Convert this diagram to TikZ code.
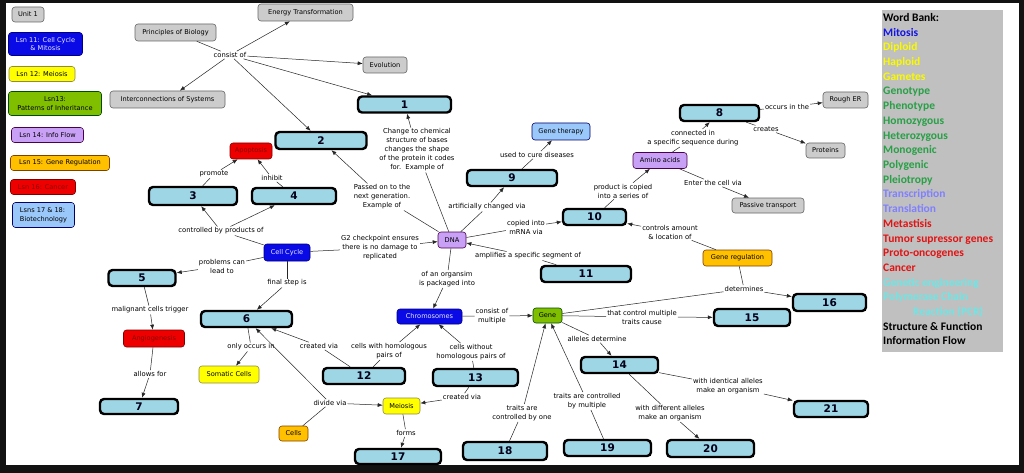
\documentclass[tikz,border=0pt]{standalone}
\usepackage{fontspec}
\newfontfamily\djv{DejaVu Sans}
\newfontfamily\crl{Carlito}
\usetikzlibrary{arrows.meta}
\definecolor{numfill}{RGB}{158,214,230}
\definecolor{cgray}{RGB}{204,204,204}
\definecolor{cblue}{RGB}{10,10,230}
\definecolor{cyellow}{RGB}{255,255,0}
\definecolor{cgreen}{RGB}{128,190,0}
\definecolor{cpurple}{RGB}{200,160,245}
\definecolor{corange}{RGB}{255,192,0}
\definecolor{cred}{RGB}{238,0,0}
\definecolor{clblue}{RGB}{155,200,250}
\definecolor{wbgray}{RGB}{192,192,192}
\definecolor{wbblue}{RGB}{20,20,230}
\definecolor{wbyellow}{RGB}{250,250,0}
\definecolor{wbgreen}{RGB}{40,160,70}
\definecolor{wbpurple}{RGB}{128,128,255}
\definecolor{wbred}{RGB}{225,20,20}
\definecolor{wbcyan}{RGB}{110,230,230}
\newcommand\mynf{\djv\fontsize{6.6}{8.5}\selectfont}
\newcommand\mylf{\djv\fontsize{6.8}{9}\selectfont}
\newcommand\mynumf{\djv\bfseries\fontsize{10.5}{11}\selectfont}
\newcommand\mywbf{\crl\bfseries\fontsize{11.5}{13}\selectfont}
\tikzset{
 base/.style={rounded corners=3pt, inner sep=1pt, font=\mynf, line width=0.6pt, align=center},
 grayn/.style={base, draw=black!60, fill=cgray},
 bluen/.style={base, draw=blue!50!black, fill=cblue, text=blue!8},
 yellown/.style={base, draw=yellow!50!black, fill=cyellow},
 greenn/.style={base, draw=green!30!black, fill=cgreen},
 purplen/.style={base, draw=violet!60!black, fill=cpurple},
 orangen/.style={base, draw=orange!50!black, fill=corange},
 redn/.style={base, draw=red!50!black, fill=cred, text=red!55!black},
 lbluen/.style={base, draw=blue!40!black, fill=clblue},
 numbox/.style={draw=black, line width=2.4pt, rounded corners=4pt, fill=numfill, font=\mynumf, text=black!90!blue, inner sep=0pt},
 lab/.style={font=\mylf, align=center, inner sep=1pt},
 ln/.style={draw=black!85, line width=0.5pt},
 arr/.style={ln, -{Latex[length=5pt,width=4pt]}},
 wb/.style={anchor=base west, font=\mywbf, inner sep=0pt},
}
\begin{document}
\begin{tikzpicture}[x=1pt,y=-1pt]
\useasboundingbox (0,0) rectangle (1024,473);
\fill[black!93] (0,0) rectangle (1024,473);
\fill[white] (6,3) rectangle (1019,465);

% legend
\node[grayn, minimum width=32pt, minimum height=15pt] (unit) at (28,14.5) {Unit 1};
\node[bluen, minimum width=74pt, minimum height=23pt] (l11) at (45.5,44) {Lsn 11: Cell Cycle\\\& Mitosis};
\node[yellown, minimum width=66pt, minimum height=15pt] (l12) at (42,74) {Lsn 12: Meiosis};
\node[greenn, minimum width=93pt, minimum height=24pt] (l13) at (55,103.5) {Lsn13:\\Patterns of Inheritance};
\node[purplen, minimum width=72pt, minimum height=15pt] (l14) at (47.5,135) {Lsn 14: Info Flow};
\node[orangen, minimum width=99pt, minimum height=15pt] (l15) at (60,163) {Lsn 15: Gene Regulation};
\node[redn, minimum width=65pt, minimum height=15pt] (l16) at (43,187) {Lsn 16: Cancer};
\node[lbluen, minimum width=62pt, minimum height=25pt, align=left] (l1718) at (43.5,215) {Lsns 17 \& 18:\\Biotechnology};

% gray concepts
\node[grayn, minimum width=95pt, minimum height=17pt] (energy) at (305.5,12.5) {Energy Transformation};
\node[grayn, minimum width=81pt, minimum height=17pt] (prin) at (175.5,32.5) {Principles of Biology};
\node[grayn, minimum width=44pt, minimum height=16pt] (evol) at (385,65) {Evolution};
\node[grayn, minimum width=115pt, minimum height=17pt] (inter) at (167.5,99.5) {Interconnections of Systems};
\node[grayn, minimum width=45pt, minimum height=16pt] (rough) at (845.5,100) {Rough ER};
\node[grayn, minimum width=39pt, minimum height=15pt] (proteins) at (825.5,150.5) {Proteins};
\node[grayn, minimum width=72pt, minimum height=15pt] (passive) at (768,205.5) {Passive transport};

% coloured concepts
\node[redn, minimum width=42pt, minimum height=16pt] (apop) at (251,151) {Apoptosis};
\node[redn, minimum width=61pt, minimum height=17pt] (angio) at (154,338.5) {Angiogenesis};
\node[yellown, minimum width=60pt, minimum height=17pt] (soma) at (229,374.5) {Somatic Cells};
\node[bluen, minimum width=46pt, minimum height=17pt] (cc) at (287,252.5) {Cell Cycle};
\node[purplen, minimum width=28pt, minimum height=16pt] (dna) at (452,240) {DNA};
\node[lbluen, minimum width=58pt, minimum height=17pt] (gt) at (561,131.5) {Gene therapy};
\node[purplen, minimum width=54pt, minimum height=16pt] (amino) at (660,160.5) {Amino acids};
\node[orangen, minimum width=69pt, minimum height=16pt] (genereg) at (737.5,258) {Gene regulation};
\node[greenn, minimum width=29pt, minimum height=15pt] (gene) at (547.5,315.5) {Gene};
\node[bluen, minimum width=65pt, minimum height=15pt] (chrom) at (429.5,316.5) {Chromosomes};
\node[yellown, minimum width=37pt, minimum height=16pt] (meiosis) at (401.5,406) {Meiosis};
\node[orangen, minimum width=29pt, minimum height=15pt] (cells) at (293.5,433.5) {Cells};

% numbered boxes
\node[numbox, minimum width=93pt, minimum height=16pt] (n1) at (404.5,104.5) {1};
\node[numbox, minimum width=91pt, minimum height=17pt] (n2) at (321,140.5) {2};
\node[numbox, minimum width=88pt, minimum height=18pt] (n3) at (193,196) {3};
\node[numbox, minimum width=84pt, minimum height=16pt] (n4) at (294,196) {4};
\node[numbox, minimum width=67pt, minimum height=16pt] (n5) at (142,278) {5};
\node[numbox, minimum width=91pt, minimum height=16pt] (n6) at (246.5,319) {6};
\node[numbox, minimum width=78pt, minimum height=15pt] (n7) at (139,406.5) {7};
\node[numbox, minimum width=79pt, minimum height=16pt] (n8) at (719.5,113) {8};
\node[numbox, minimum width=90pt, minimum height=16pt] (n9) at (512,178) {9};
\node[numbox, minimum width=63pt, minimum height=16pt] (n10) at (594.5,217) {10};
\node[numbox, minimum width=90pt, minimum height=16pt] (n11) at (586,274) {11};
\node[numbox, minimum width=82pt, minimum height=16pt] (n12) at (364,376) {12};
\node[numbox, minimum width=85pt, minimum height=17pt] (n13) at (475.5,377.5) {13};
\node[numbox, minimum width=77pt, minimum height=16pt] (n14) at (619.5,365) {14};
\node[numbox, minimum width=76pt, minimum height=17pt] (n15) at (752,317.5) {15};
\node[numbox, minimum width=73pt, minimum height=17pt] (n16) at (829.5,302.5) {16};
\node[numbox, minimum width=86pt, minimum height=15pt] (n17) at (398,456.5) {17};
\node[numbox, minimum width=84pt, minimum height=18pt] (n18) at (505,451) {18};
\node[numbox, minimum width=87pt, minimum height=16pt] (n19) at (607.5,448) {19};
\node[numbox, minimum width=87pt, minimum height=17pt] (n20) at (710.5,448.5) {20};
\node[numbox, minimum width=74pt, minimum height=16pt] (n21) at (831,409) {21};

% linking phrases
\node[lab] (consist) at (230,55) {consist of};
\node[lab] (chg) at (417,150) {Change to chemical\\structure of bases\\changes the shape\\of the protein it codes\\for.\ \ Example of};
\node[lab] (passed) at (382,197) {Passed on to the\\next generation.\\Example of};
\node[lab] (artif) at (487,207) {artificially changed via};
\node[lab] (cure) at (537,155) {used to cure diseases};
\node[lab] (copied) at (526,227) {copied into\\mRNA via};
\node[lab] (ampl) at (528,256) {amplifies a specific segment of};
\node[lab] (g2) at (380,248) {G2 checkpoint ensures\\there is no damage to\\replicated};
\node[lab] (pack) at (447,279) {of an organsim\\is packaged into};
\node[lab] (consmult) at (492,316) {consist of\\multiple};
\node[lab] (tcm) at (642,317) {that control multiple\\traits cause};
\node[lab] (determ) at (744,289) {determines};
\node[lab] (ctrl) at (670,232) {controls amount\\\& location of};
\node[lab] (prod) at (623,191) {product is copied\\into a series of};
\node[lab] (conn) at (693,138) {connected in\\a specific sequence during};
\node[lab] (occurs) at (787,107) {occurs in the};
\node[lab] (creates) at (766,129) {creates};
\node[lab] (enter) at (713,183) {Enter the cell via};
\node[lab] (alleles) at (597,339) {alleles determine};
\node[lab] (ident) at (728,386) {with identical alleles\\make an organism};
\node[lab] (diff) at (670,413) {with different alleles\\make an organism};
\node[lab] (tmult) at (587,401) {traits are controlled\\by multiple};
\node[lab] (tone) at (522,413) {traits are\\controlled by one};
\node[lab] (homo) at (389,351) {cells with homologous\\pairs of};
\node[lab] (nohomo) at (471,352) {cells without\\homologous pairs of};
\node[lab] (cva) at (319,346) {created via};
\node[lab] (cvb) at (462,397) {created via};
\node[lab] (divide) at (330,403) {divide via};
\node[lab] (forms) at (406,433) {forms};
\node[lab] (final) at (287,283) {final step is};
\node[lab] (problems) at (222,266) {problems can\\lead to};
\node[lab] (ctrlby) at (221,231) {controlled by products of};
\node[lab] (promote) at (214,174) {promote};
\node[lab] (inhibit) at (272,178) {inhibit};
\node[lab] (malig) at (150,310) {malignant cells trigger};
\node[lab] (allows) at (150,374) {allows for};
\node[lab] (only) at (251,347) {only occurs in};

% connectors
\draw[ln] (prin) -- (consist);
\draw[arr] (consist) -- (energy);
\draw[arr] (consist) -- (evol);
\draw[arr] (consist) -- (n1);
\draw[arr] (consist) -- (n2);
\draw[arr] (consist) -- (inter);

\draw[ln] (dna) -- (chg);  \draw[arr] (chg) -- (n1);
\draw[ln] (dna) -- (passed); \draw[arr] (passed) -- (n2);
\draw[ln] (dna) -- (artif); \draw[arr] (artif) -- (n9);
\draw[ln] (n9) -- (cure); \draw[arr] (cure) -- (gt);
\draw[ln] (dna) -- (copied); \draw[arr] (copied) -- (n10);
\draw[ln] (n11) -- (ampl); \draw[arr] (ampl) -- (dna);
\draw[ln] (cc) -- (g2); \draw[arr] (g2) -- (dna);
\draw[ln] (dna) -- (pack); \draw[arr] (pack) -- (chrom);
\draw[ln] (chrom) -- (consmult); \draw[arr] (consmult) -- (gene);
\draw[ln] (gene) -- (tcm); \draw[arr] (tcm) -- (n15);
\draw[ln] (gene) -- (determ); \draw[ln] (genereg) -- (determ); \draw[arr] (determ) -- (n16);
\draw[ln] (genereg) -- (ctrl); \draw[arr] (ctrl) -- (n10);
\draw[ln] (n10) -- (prod); \draw[arr] (prod) -- (amino);
\draw[ln] (amino) -- (conn); \draw[arr] (conn) -- (n8);
\draw[ln] (amino) -- (enter); \draw[arr] (enter) -- (passive);
\draw[ln] (n8) -- (occurs); \draw[arr] (occurs) -- (rough);
\draw[ln] (n8) -- (creates); \draw[arr] (creates) -- (proteins);
\draw[ln] (gene) -- (alleles); \draw[arr] (alleles) -- (n14);
\draw[ln] (n14) -- (ident); \draw[arr] (ident) -- (n21);
\draw[ln] (n14) -- (diff); \draw[arr] (diff) -- (n20);
\draw[ln] (n19) -- (tmult); \draw[arr] (tmult) -- (gene);
\draw[ln] (n18) -- (tone); \draw[arr] (tone) -- (gene);
\draw[ln] (n12) -- (homo); \draw[arr] (homo) -- (chrom);
\draw[ln] (n13) -- (nohomo); \draw[arr] (nohomo) -- (chrom);
\draw[ln] (n12) -- (cva); \draw[arr] (cva) -- (n6);
\draw[ln] (n13) -- (cvb); \draw[arr] (cvb) -- (meiosis);
\draw[ln] (cells) -- (divide); \draw[arr] (divide) -- (n6); \draw[arr] (divide) -- (meiosis);
\draw[ln] (meiosis) -- (forms); \draw[arr] (forms) -- (n17);
\draw[ln] (cc) -- (final); \draw[arr] (final) -- (n6);
\draw[ln] (cc) -- (problems); \draw[arr] (problems) -- (n5);
\draw[ln] (cc) -- (ctrlby); \draw[arr] (ctrlby) -- (n3); \draw[arr] (ctrlby) -- (n4);
\draw[ln] (n3) -- (promote); \draw[arr] (promote) -- (apop);
\draw[ln] (n4) -- (inhibit); \draw[arr] (inhibit) -- (apop);
\draw[ln] (n5) -- (malig); \draw[arr] (malig) -- (angio);
\draw[ln] (angio) -- (allows); \draw[arr] (allows) -- (n7);
\draw[ln] (n6) -- (only); \draw[arr] (only) -- (soma);

% word bank
\fill[wbgray] (882,10) rectangle (1003,352);
\node[wb] (wb1) at (883,21.5) {Word Bank:};
\node[wb, text=wbblue] (wb2) at (883,36.2) {Mitosis};
\node[wb, text=wbyellow] (wb3) at (883,50.9) {Diploid};
\node[wb, text=wbyellow] (wb4) at (883,65.6) {Haploid};
\node[wb, text=wbyellow] (wb5) at (883,80.3) {Gametes};
\node[wb, text=wbgreen] (wb6) at (883,95) {Genotype};
\node[wb, text=wbgreen] (wb7) at (883,109.7) {Phenotype};
\node[wb, text=wbgreen] (wb8) at (883,124.4) {Homozygous};
\node[wb, text=wbgreen] (wb9) at (883,139.1) {Heterozygous};
\node[wb, text=wbgreen] (wb10) at (883,153.8) {Monogenic};
\node[wb, text=wbgreen] (wb11) at (883,168.5) {Polygenic};
\node[wb, text=wbgreen] (wb12) at (883,183.2) {Pleiotropy};
\node[wb, text=wbpurple] (wb13) at (883,197.9) {Transcription};
\node[wb, text=wbpurple] (wb14) at (883,212.6) {Translation};
\node[wb, text=wbred] (wb15) at (883,227.3) {Metastisis};
\node[wb, text=wbred] (wb16) at (883,242) {Tumor supressor genes};
\node[wb, text=wbred] (wb17) at (883,256.7) {Proto-oncogenes};
\node[wb, text=wbred] (wb18) at (883,271.4) {Cancer};
\node[wb, text=wbcyan] (wb19) at (883,286.1) {Genetic engineering};
\node[wb, text=wbcyan] (wb20) at (883,300.8) {Polymerase Chain};
\node[wb, text=wbcyan] (wb21) at (913,315.5) {Reaction (PCR)};
\node[wb] (wb22) at (883,330.2) {Structure \& Function};
\node[wb] (wb23) at (883,344.9) {Information Flow};
\end{tikzpicture}
\end{document}
